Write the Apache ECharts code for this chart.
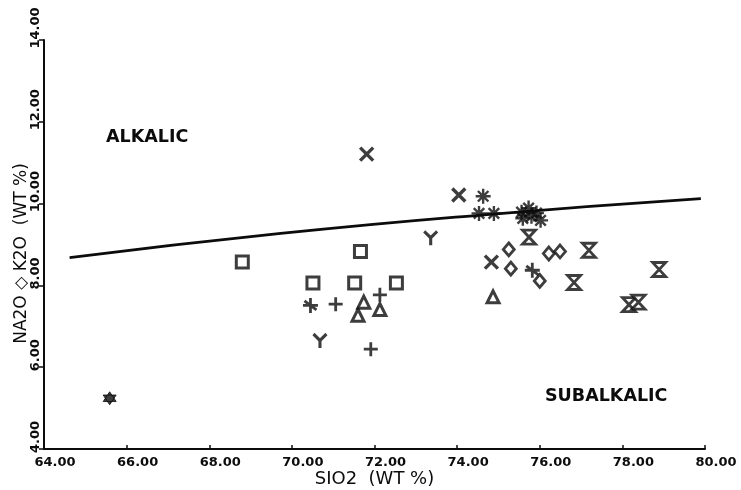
<!DOCTYPE html>
<html>
<head>
<meta charset="utf-8">
<script src="https://cdn.jsdelivr.net/npm/echarts@6/dist/echarts.min.js"></script>
<style>html,body{margin:0;padding:0;background:#fff}#c{width:741px;height:490px}</style>
</head>
<body>
<div id="c"></div>
<script>
// SiO2 vs Na2O+K2O (wt %)
var xTicks = [64, 66, 68, 70, 72, 74, 76, 78, 80];
var yTicks = [4, 6, 8, 10, 12, 14];
var dividerLine = [[64.62, 8.68], [69.73, 9.27], [74.57, 9.72], [79.90, 10.12]];
var squares = [[68.80, 8.57], [70.51, 8.06], [71.52, 8.06], [72.53, 8.06], [71.66, 8.83]];
var pluses = [[71.06, 7.54], [71.91, 6.44], [72.13, 7.77]];
var plusStars = [[70.45, 7.51], [75.82, 8.37]];
var triangles = [[71.74, 7.59], [71.60, 7.27], [72.13, 7.41], [74.87, 7.72]];
var yMarks = [[70.68, 6.64], [73.36, 9.15]];
var crosses = [[71.81, 11.21], [74.04, 10.21], [74.83, 8.57]];
var asterisks = [[74.63, 10.18], [74.53, 9.76], [74.89, 9.76], [75.56, 9.79], [75.73, 9.89], [75.92, 9.77], [76.02, 9.59], [75.59, 9.64], [75.80, 9.69]];
var hourglasses = [[75.74, 9.18], [77.19, 8.86], [76.83, 8.07], [78.89, 8.39], [78.16, 7.53], [78.39, 7.59]];
var diamonds = [[75.25, 8.88], [75.30, 8.41], [76.22, 8.78], [76.49, 8.83], [76.00, 8.11]];
var stars = [[65.59, 5.24]];

var ink = '#0c0c0c';
var strokeStyle = {color: 'none', borderColor: ink, borderWidth: 2.8};
function sc(name, data, symbol, size, style) {
  return {name: name, type: 'scatter', data: data, symbol: symbol, symbolSize: size,
    itemStyle: style, emphasis: {disabled: true}, z: 3};
}
var chart = echarts.init(document.getElementById('c'), null, {renderer: 'canvas'});
chart.setOption({
  animation: false,
  backgroundColor: '#fff',
  grid: {left: 44, right: 36, top: 40, bottom: 41, outerBoundsMode: 'none'},
  xAxis: {
    type: 'value', min: xTicks[0], max: xTicks[xTicks.length - 1], interval: 2,
    name: 'SIO2  (WT %)', nameLocation: 'middle', nameGap: 21, nameMoveOverlap: false,
    nameTextStyle: {fontFamily: 'DejaVu Sans', fontSize: 18, color: ink},
    axisLine: {lineStyle: {color: ink, width: 2}},
    axisTick: {inside: true, length: 4, lineStyle: {color: ink, width: 1.5}},
    axisLabel: {formatter: function (v) { return v.toFixed(2); }, fontFamily: 'DejaVu Sans', fontWeight: 'bold',
      fontSize: 13, color: ink, margin: 7, padding: [0, 0, 0, 22]},
    splitLine: {show: false}
  },
  yAxis: {
    type: 'value', min: yTicks[0], max: yTicks[yTicks.length - 1], interval: 2,
    name: 'NA2O \u25C7 K2O  (WT %)', nameLocation: 'middle', nameGap: 14, nameMoveOverlap: false,
    nameTextStyle: {fontFamily: 'DejaVu Sans', fontSize: 17, color: ink, padding: [0, 18, 0, 0]},
    axisLine: {lineStyle: {color: ink, width: 2}},
    axisTick: {inside: false, length: 5, lineStyle: {color: ink, width: 1.5}},
    axisLabel: {rotate: 90, formatter: function (v) { return v.toFixed(2); }, fontFamily: 'DejaVu Sans', fontWeight: 'bold',
      fontSize: 13, color: ink, margin: 2, padding: [0, 0, 0, 24]},
    splitLine: {show: false}
  },
  graphic: [
    {type: 'text', left: 106, top: 128, style: {text: 'ALKALIC', fontFamily: 'DejaVu Sans', fontWeight: 'bold', fontSize: 17.5, fill: ink}},
    {type: 'text', left: 545, top: 387, style: {text: 'SUBALKALIC', fontFamily: 'DejaVu Sans', fontWeight: 'bold', fontSize: 17.5, fill: ink}}
  ],
  series: [
    {name: 'divider', type: 'line', data: dividerLine, smooth: true, showSymbol: false,
      lineStyle: {color: ink, width: 2.8}, emphasis: {disabled: true}, z: 2},
    sc('square', squares, 'rect', 12, {color: '#fff', borderColor: ink, borderWidth: 3}),
    sc('triangle', triangles, 'triangle', 12, {color: '#fff', borderColor: ink, borderWidth: 3}),
    sc('diamond', diamonds, 'diamond', [11, 13], {color: '#fff', borderColor: ink, borderWidth: 2.8}),
    sc('plus', pluses, 'path://M5 0L5 10M0 5L10 5', 14, strokeStyle),
    sc('plusStar', plusStars, 'path://M5 0L5 10M0 5L10 5M1 2L9 8', 15, strokeStyle),
    sc('cross', crosses, 'path://M0 0L10 10M10 0L0 10', 13, {color: 'none', borderColor: ink, borderWidth: 3.4}),
    sc('Y', yMarks, 'path://M0 0L5 5L10 0M5 5L5 11', [13, 14], {color: 'none', borderColor: ink, borderWidth: 3.2}),
    sc('asterisk', asterisks, 'path://M5 0L5 10M0 5L10 5M1.5 1.5L8.5 8.5M8.5 1.5L1.5 8.5', 15, {color: 'none', borderColor: ink, borderWidth: 2.4}),
    sc('hourglass', hourglasses, 'path://M0 0L10 0L0 10L10 10Z', [13, 14], {color: '#fff', borderColor: ink, borderWidth: 2.8}),
    sc('star', stars, 'path://M5 0L9.33 7.5L0.67 7.5ZM5 10L0.67 2.5L9.33 2.5Z', 13, {color: ink, borderColor: ink, borderWidth: 1})
  ]
});
</script>
</body>
</html>
